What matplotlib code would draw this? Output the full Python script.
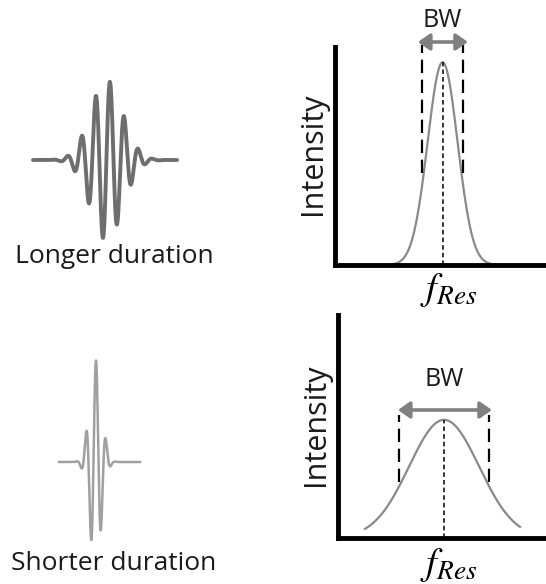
import numpy as np
import matplotlib
matplotlib.use("Agg")
import matplotlib.pyplot as plt

plt.rcParams['font.family'] = ['Open Sans', 'DejaVu Sans']
plt.rcParams['mathtext.fontset'] = 'stix'

W, H = 546, 584

# wavelets (time in a.u., amplitude in a.u.)
pulse_labels = ['Longer duration', 'Shorter duration']
pulse_center = [0.021, -0.132]
pulse_sigma = [0.222, 0.083]
pulse_period = [0.197, 0.139]
pulse_peak = [0.069, -0.125]
pulse_span = [(-1.0, 1.0), (-0.64, 0.49)]

# spectra (frequency in a.u.)
f_res = 5.1
spec_sigma = [0.71, 1.68]
spec_height = [0.93, 0.53]
spec_span = [(1.3, 9.4), (1.3, 8.75)]
bw_half = [0.98, 2.16]
bw_dash_y = [(0.42, 1.01), (0.25, 0.55)]
bw_arrow = [(3.93, 6.3, 1.023), (2.88, 7.4, 0.574)]
bw_text_y = [1.12, 0.71]


def box(x0, y0, x1, y1):
    return [x0 / W, 1 - y1 / H, (x1 - x0) / W, (y1 - y0) / H]


fig = plt.figure(figsize=(W / 100, H / 100), dpi=100)

# ---- wavelets on the left
pulse_boxes = [box(0, 72, 220, 248), box(0, 350, 220, 574)]
pulse_style = [dict(color='#6e6e6e', lw=2.8), dict(color='#a0a0a0', lw=1.8)]
for i in range(2):
    ax = fig.add_axes(pulse_boxes[i])
    t = np.linspace(pulse_span[i][0], pulse_span[i][1], 800)
    env = np.exp(-(t - pulse_center[i]) ** 2 / (2 * pulse_sigma[i] ** 2))
    y = env * np.cos(2 * np.pi * (t - pulse_peak[i]) / pulse_period[i])
    ax.plot(t, y, solid_capstyle='round', **pulse_style[i])
    ax.set_xlim(-105 / 72, 115 / 72)
    ax.set_ylim(-1.1, 1.1)
    ax.axis('off')

fig.text(114 / W, 1 - 257 / H, pulse_labels[0], fontsize=19, ha='center', va='center', color='#1a1a1a')
fig.text(114 / W, 1 - 563 / H, pulse_labels[1], fontsize=19, ha='center', va='center', color='#1a1a1a')

# ---- spectra on the right
spec_boxes = [box(335, 47, 546, 265), box(338, 315, 546, 538)]
for i in range(2):
    ax = fig.add_axes(spec_boxes[i])
    f = np.linspace(spec_span[i][0], spec_span[i][1], 600)
    s = spec_height[i] * np.exp(-(f - f_res) ** 2 / (2 * spec_sigma[i] ** 2))
    ax.plot(f, s, color='#8a8a8a', lw=1.6)
    ax.plot([f_res, f_res], [0, spec_height[i]], color='black', lw=1.1, ls=(0, (3, 2)))
    for side in (-1, 1):
        ax.plot([f_res + side * bw_half[i]] * 2, bw_dash_y[i], color='black', lw=1.6,
                ls=(0, (6, 3)), clip_on=False)
    x0, x1, ya = bw_arrow[i]
    ax.annotate('', xy=(x1, ya), xytext=(x0, ya), annotation_clip=False,
                arrowprops=dict(arrowstyle='<|-|>,head_length=0.5,head_width=0.35',
                                color='#808080', lw=2.6, shrinkA=0, shrinkB=0, mutation_scale=14))
    ax.text(f_res, bw_text_y[i], 'BW', fontsize=18, ha='center', va='center', color='#1a1a1a')
    ax.text(-0.105, 0.51, 'Intensity', transform=ax.transAxes, rotation=90, fontsize=22,
            ha='center', va='center', color='#1a1a1a')
    ax.set_xlim(0, 10)
    ax.set_ylim(0, 1)
    ax.set_xticks([])
    ax.set_yticks([])
    for sp in ['top', 'right']:
        ax.spines[sp].set_visible(False)
    for sp in ['left', 'bottom']:
        ax.spines[sp].set_linewidth(3.5)
        ax.spines[sp].set_capstyle('projecting')
    ax.patch.set_alpha(0)

fig.text(449 / W, 1 - 290 / H, r'$f_{Res}$', fontsize=28, ha='center', va='center')
fig.text(449 / W, 1 - 565 / H, r'$f_{Res}$', fontsize=28, ha='center', va='center')

fig.savefig('out.png', dpi=100)
